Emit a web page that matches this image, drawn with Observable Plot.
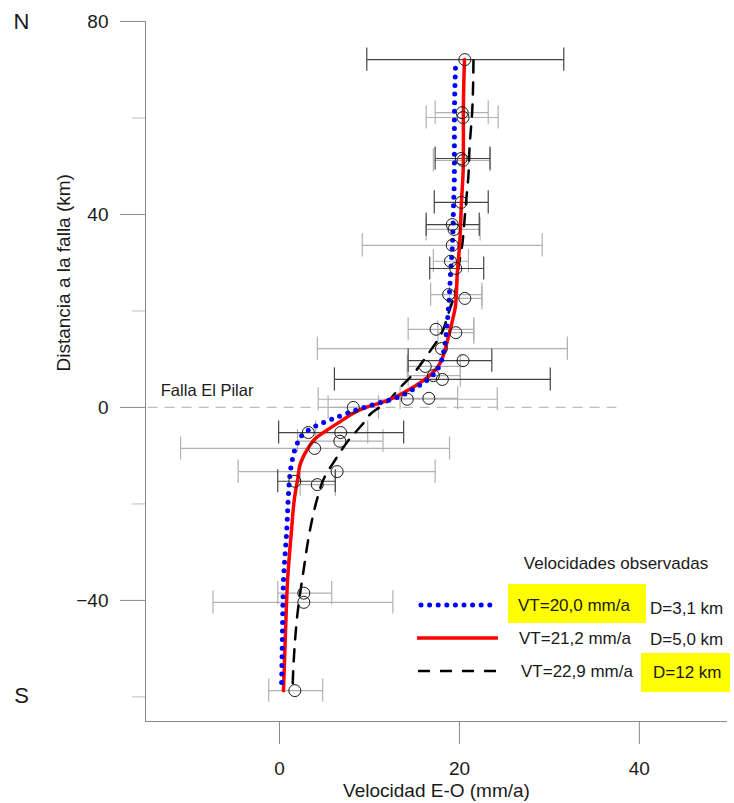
<!DOCTYPE html>
<html><head><meta charset="utf-8">
<script src="https://cdn.jsdelivr.net/npm/d3@7"></script>
<script src="https://cdn.jsdelivr.net/npm/@observablehq/plot@0.6"></script>
<style>
body{margin:0;background:#fff;}
#wrap{position:relative;width:734px;height:803px;}
</style></head><body><div id="wrap"></div>
<script>
// Observed velocities (E-W, mm/a) vs distance to the fault (km)
const obsDist = [72.1, 61.1, 60.1, 51.6, 51.2, 42.5, 37.9, 36.9, 33.6, 30.3, 28.8, 23.4, 22.6, 16.2, 15.5, 12.2, 9.7, 8.5, 6.6, 5.8, 1.7, 1.9, 0.0, -5.2, -5.2, -7.0, -8.5, -13.3, -15.3, -16.0, -38.5, -40.4, -58.7];
const obsVel  = [20.6, 20.3, 20.4, 20.2, 20.4, 20.2, 19.2, 19.4, 19.2, 19.0, 19.6, 18.8, 20.6, 17.4, 19.6, 18.0, 20.4, 16.2, 17.1, 18.1, 14.2, 16.6, 8.2, 3.2, 6.8, 6.7, 3.9, 6.4, 1.7, 4.2, 2.7, 2.7, 1.7];
const obsLo   = [9.7, 17.3, 16.3, 17.3, 17.1, 17.2, 16.3, 16.3, 9.2, 17.1, 16.7, 16.8, 18.9, 14.3, 17.6, 4.2, 14.3, 14.2, 14.3, 6.1, 4.3, 13.4, 5.4, -0.1, 4.0, 2.0, -11.0, -4.6, -0.2, 2.3, -0.2, -7.4, -1.2];
const obsHi   = [31.6, 23.2, 24.3, 23.4, 23.4, 23.2, 22.2, 22.3, 29.2, 21.0, 22.7, 22.5, 22.5, 21.6, 21.6, 32.0, 23.6, 20.1, 20.1, 30.1, 24.2, 19.8, 11.0, 13.8, 9.8, 11.5, 18.9, 17.3, 6.2, 6.2, 5.8, 12.6, 4.8];
const obsTone = ["d","l","l","d","l","d","d","l","l","l","d","l","l","l","l","l","d","l","l","d","l","l","l","d","l","l","l","l","d","l","l","l","l"];

// Model curves
const blueDist = [70.3, 59.5, 49.1, 40.8, 33.6, 27.4, 23.6, 18.0, 12.4, 9.7, 6.8, 4.4, 2.1, 0.0, -2.3, -3.7, -5.4, -8.3, -11.0, -15.1, -17.8, -25.5, -35.9, -46.2, -58.7];
const blueVel  = [19.56, 19.44, 19.44, 19.33, 19.22, 19.0, 18.89, 18.67, 18.33, 18.0, 17.1, 15.4, 13.1, 9.4, 6.0, 4.2, 2.7, 1.8, 1.4, 1.1, 1.0, 0.8, 0.44, 0.33, 0.22];
const redDist  = [72.1, 61.6, 51.2, 42.3, 33.2, 28.4, 21.1, 18.0, 13.9, 10.8, 8.3, 5.6, 3.5, 1.45, -0.2, -3.3, -5.2, -6.4, -8.3, -11.6, -15.1, -18.7, -25.5, -35.9, -46.2, -58.7];
const redVel   = [20.56, 20.44, 20.44, 20.22, 20.0, 19.78, 19.56, 19.22, 18.67, 18.22, 17.56, 16.0, 14.22, 12.0, 9.33, 6.44, 4.89, 4.0, 3.22, 2.33, 2.0, 1.67, 1.33, 0.89, 0.67, 0.44];
const blackDist = [71.9, 62.2, 53.3, 48.1, 43.5, 38.8, 34.0, 29.0, 24.2, 19.5, 15.3, 11.2, 7.0, 3.5, 1.0, -1.2, -3.5, -6.8, -10.8, -14.9, -18.7, -24.9, -33.8, -42.7, -53.1, -58.7];
const blackVel  = [21.56, 21.44, 21.11, 21.0, 20.78, 20.56, 20.33, 19.89, 19.56, 18.78, 18.0, 16.56, 14.89, 13.11, 11.9, 10.2, 9.22, 7.67, 6.22, 4.89, 4.22, 3.44, 2.67, 2.0, 1.56, 1.44];

const xTicks = [0, 20, 40];
const yTicks = [-40, 0, 40, 80];
const yMinorTicks = [-60, -20, 20, 60];
const legendTitle = "Velocidades observadas";
const legendVT = ["VT=20,0 mm/a", "VT=21,2 mm/a", "VT=22,9 mm/a"];
const legendD  = ["D=3,1 km", "D=5,0 km", "D=12 km"];

const FONT = "Liberation Sans, Arial, Helvetica, sans-serif";
const obs = obsDist.map((d, i) => ({d, v: obsVel[i], lo: obsLo[i], hi: obsHi[i], tone: obsTone[i]}));
const curve = (ds, vs) => ds.map((d, i) => ({d, v: vs[i]}));
const X0 = -14.9, X1 = 49.8, Y0 = -65.1, Y1 = 80;
const CAP = 2.4;
const darkC = "#444", lightC = "#b0b0b0";

function bars(tone, color) {
  const data = obs.filter(o => o.tone === tone);
  return [
    Plot.link(data, {x1: "lo", x2: "hi", y1: "d", y2: "d", stroke: color, strokeWidth: 1.2}),
    Plot.ruleX(data, {x: "lo", y1: o => o.d - CAP, y2: o => o.d + CAP, stroke: color, strokeWidth: 1.2}),
    Plot.ruleX(data, {x: "hi", y1: o => o.d - CAP, y2: o => o.d + CAP, stroke: color, strokeWidth: 1.2})
  ];
}

const blueStyle = {stroke: "#0000ff", strokeWidth: 5, strokeDasharray: "0,8.6", strokeLinecap: "round"};
const redStyle = {stroke: "#ff0000", strokeWidth: 3.5};
const blackStyle = {stroke: "#000", strokeWidth: 2.5, strokeDasharray: "12,10"};

const plot = Plot.plot({
  width: 734, height: 803,
  marginLeft: 145, marginRight: 7, marginTop: 21, marginBottom: 82,
  x: {domain: [X0, X1], label: null},
  y: {domain: [Y0, Y1], label: null},
  style: {fontFamily: FONT, fontSize: "19px", color: "#111", background: "#fff", overflow: "visible"},
  marks: [
    Plot.ruleY([0], {x1: X0 + 0.3, x2: 37.5, stroke: "#bdbdbd", strokeWidth: 1.2, strokeDasharray: "10,7"}),
    ...bars("l", lightC),
    ...bars("d", darkC),
    Plot.line(curve(blackDist, blackVel), {x: "v", y: "d", curve: "monotone-y", ...blackStyle}),
    Plot.line(curve(redDist, redVel), {x: "v", y: "d", curve: "monotone-y", ...redStyle}),
    Plot.line(curve(blueDist, blueVel), {x: "v", y: "d", curve: "monotone-y", ...blueStyle}),
    Plot.dot(obs, {x: "v", y: "d", r: 6, stroke: "#1a1a1a", fill: "none", strokeWidth: 1}),
    Plot.text(["Falla El Pilar"], {x: -13.2, y: 3.5, text: d => d, textAnchor: "start", fontSize: 16.5, fill: "#1a1a1a"}),
    Plot.ruleX([X0], {y1: Y0, y2: Y1, stroke: "#8a8a8a"}),
    Plot.ruleY([Y0], {x1: X0, x2: X1, stroke: "#8a8a8a"}),
    Plot.axisY(yTicks, {tickSize: 25, tickPadding: 12, stroke: "#8a8a8a", fill: "#1a1a1a", label: null, fontSize: 19}),
    Plot.axisY(yMinorTicks, {tickSize: 13, text: null, stroke: "#bdbdbd", label: null}),
    Plot.axisX(xTicks, {tickSize: 23, tickPadding: 17, stroke: "#8a8a8a", fill: "#1a1a1a", label: null, fontSize: 19}),
    Plot.text(["Velocidad E-O (mm/a)"], {frameAnchor: "bottom", text: d => d, dy: 69, lineAnchor: "middle", fontSize: 19, fill: "#1a1a1a"}),
    Plot.text(["Distancia a la falla (km)"], {frameAnchor: "left", text: d => d, dx: -82, rotate: -90, lineAnchor: "middle", fontSize: 19, fill: "#1a1a1a"}),
    Plot.text(["N"], {frameAnchor: "top-left", text: d => d, dx: -124, dy: 0, lineAnchor: "middle", textAnchor: "middle", fontSize: 22, fill: "#1a1a1a"}),
    Plot.text(["S"], {frameAnchor: "bottom-left", text: d => d, dx: -124, dy: -26, lineAnchor: "middle", textAnchor: "middle", fontSize: 22, fill: "#1a1a1a"})
  ]
});

document.getElementById("wrap").appendChild(plot);

// Legend (pixel layout) drawn into the same SVG
const svg = d3.select(plot);
const lg = svg.append("g").attr("font-family", FONT).attr("fill", "#1a1a1a").attr("text-anchor", "start");
lg.append("text").attr("x", 616).attr("y", 563).attr("dy", "0.35em").attr("text-anchor", "middle").attr("font-size", 17).text(legendTitle);
const rowsY = [605, 638, 671];
const styles = [blueStyle, redStyle, blackStyle];
const lineX = [[421, 498], [417, 498], [418, 497]];
const vtX = [518, 519, 521];
const dX = [650, 650, 653];
const boxes = [[508, 584, 138, 39], [641, 653, 89, 39]];
lg.selectAll("rect.hl").data(boxes).join("rect")
  .attr("x", b => b[0]).attr("y", b => b[1]).attr("width", b => b[2]).attr("height", b => b[3])
  .attr("fill", "#ffff00");
rowsY.forEach((y, i) => {
  const s = styles[i];
  lg.append("line").attr("x1", lineX[i][0]).attr("x2", lineX[i][1]).attr("y1", y).attr("y2", y)
    .attr("stroke", s.stroke).attr("stroke-width", s.strokeWidth)
    .attr("stroke-dasharray", s.strokeDasharray || null).attr("stroke-linecap", s.strokeLinecap || null);
  lg.append("text").attr("x", vtX[i]).attr("y", y).attr("dy", "0.35em").attr("text-anchor", "start").attr("font-size", 17).text(legendVT[i]);
  lg.append("text").attr("x", dX[i]).attr("y", y + (i === 0 ? 3 : 1)).attr("dy", "0.35em").attr("text-anchor", "start").attr("font-size", 17).text(legendD[i]);
});
</script></body></html>
